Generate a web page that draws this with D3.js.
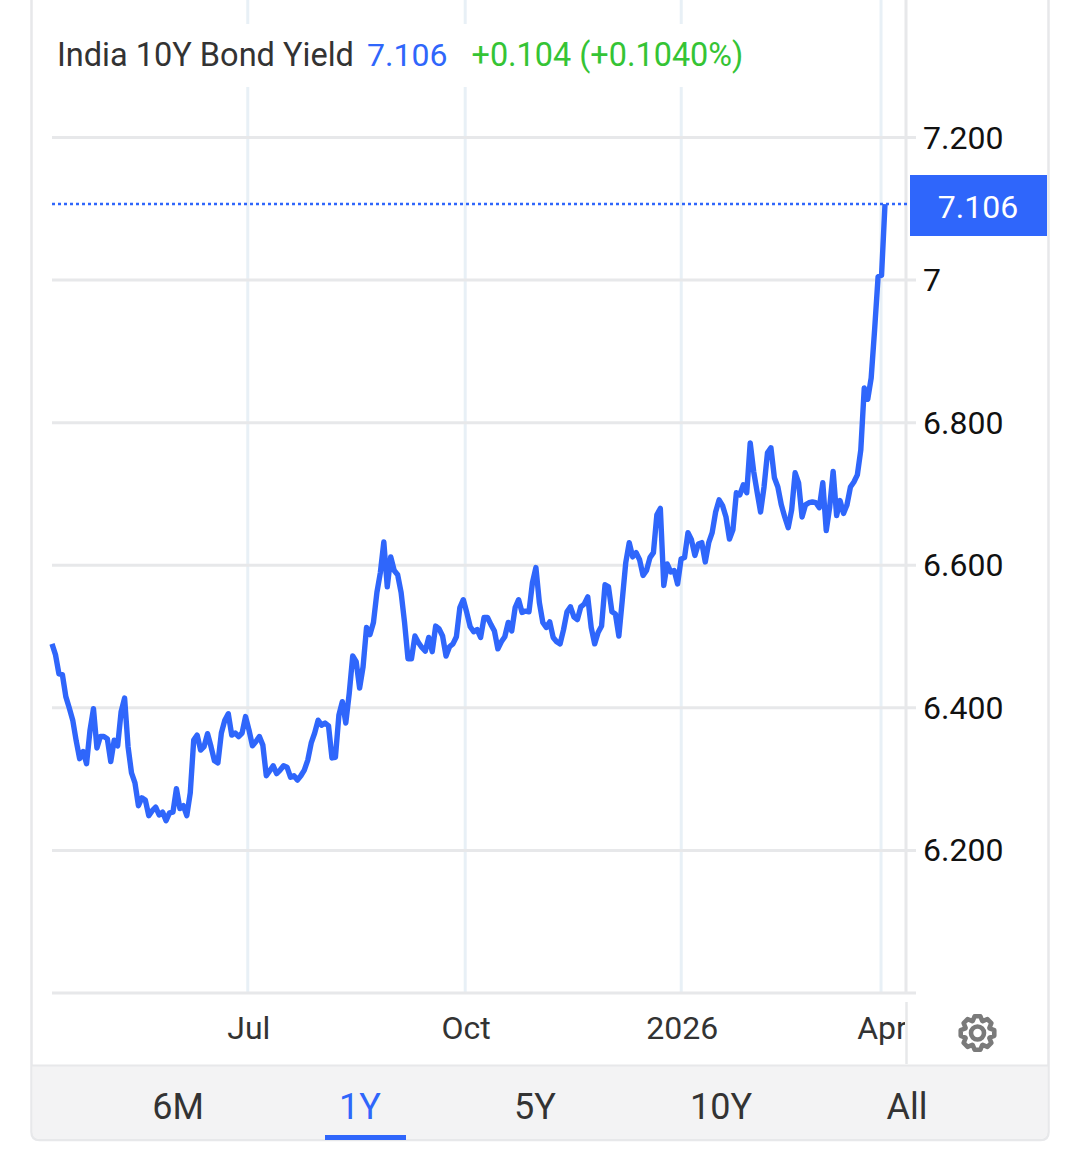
<!DOCTYPE html>
<html>
<head>
<meta charset="utf-8">
<script src="https://cdn.jsdelivr.net/npm/d3@7"></script>
<style>
  html, body { margin: 0; padding: 0; background: #fff; }
  svg { display: block; }
  text { font-family: Roboto, sans-serif; }
</style>
</head>
<body>
<svg id="chart" width="1080" height="1151"></svg>
<script>
// daily closes, one per trading session
const yields = [
  6.489, 6.474, 6.447, 6.446, 6.415, 6.399, 6.382, 6.353, 6.328, 6.338,
  6.321, 6.368, 6.398, 6.343, 6.359, 6.359, 6.356, 6.324, 6.354, 6.346,
  6.394, 6.413, 6.345, 6.308, 6.294, 6.262, 6.273, 6.270, 6.248, 6.255,
  6.260, 6.249, 6.253, 6.241, 6.252, 6.253, 6.286, 6.258, 6.262, 6.248,
  6.280, 6.354, 6.361, 6.340, 6.345, 6.363, 6.345, 6.325, 6.322, 6.364,
  6.382, 6.391, 6.361, 6.364, 6.359, 6.364, 6.387, 6.368, 6.346, 6.352,
  6.359, 6.347, 6.304, 6.311, 6.318, 6.307, 6.312, 6.318, 6.316, 6.302,
  6.304, 6.298, 6.304, 6.312, 6.326, 6.350, 6.364, 6.382, 6.375, 6.378,
  6.374, 6.329, 6.330, 6.389, 6.408, 6.378, 6.420, 6.472, 6.464, 6.427,
  6.457, 6.512, 6.502, 6.519, 6.561, 6.589, 6.632, 6.569, 6.611, 6.592,
  6.586, 6.561, 6.519, 6.468, 6.468, 6.500, 6.491, 6.484, 6.479, 6.498,
  6.478, 6.514, 6.510, 6.500, 6.472, 6.485, 6.489, 6.499, 6.540, 6.551,
  6.533, 6.513, 6.506, 6.509, 6.498, 6.526, 6.526, 6.516, 6.507, 6.482,
  6.492, 6.499, 6.519, 6.507, 6.540, 6.551, 6.533, 6.535, 6.534, 6.575,
  6.596, 6.547, 6.519, 6.512, 6.520, 6.498, 6.492, 6.489, 6.509, 6.534,
  6.541, 6.527, 6.523, 6.541, 6.545, 6.555, 6.512, 6.489, 6.505, 6.514,
  6.572, 6.569, 6.534, 6.531, 6.500, 6.551, 6.603, 6.631, 6.611, 6.617,
  6.607, 6.585, 6.592, 6.610, 6.617, 6.670, 6.679, 6.571, 6.601, 6.590,
  6.592, 6.573, 6.608, 6.610, 6.645, 6.635, 6.613, 6.629, 6.631, 6.604,
  6.631, 6.645, 6.674, 6.691, 6.683, 6.667, 6.636, 6.649, 6.701, 6.698,
  6.712, 6.701, 6.771, 6.731, 6.702, 6.674, 6.709, 6.757, 6.764, 6.722,
  6.709, 6.684, 6.667, 6.652, 6.677, 6.729, 6.715, 6.667, 6.684, 6.687,
  6.688, 6.687, 6.680, 6.715, 6.648, 6.681, 6.731, 6.669, 6.690, 6.672,
  6.684, 6.709, 6.716, 6.726, 6.761, 6.848, 6.832, 6.862, 6.930, 7.004,
  7.006, 7.106
];
const yTicks = [6, 6.2, 6.4, 6.6, 6.8, 7, 7.2];
const yLabels = ["", "6.200", "6.400", "6.600", "6.800", "7", "7.200"];
const monthSessions = [56.5, 119.4, 181.9, 239.7];
const monthLabels = ["Jul", "Oct", "2026", "Apr"];
const rangeLabels = ["6M", "1Y", "5Y", "10Y", "All"];
const rangeCenters = [178, 360, 535, 721, 907];
const lastValue = 7.106;

const BLUE = "#2f66fb";
const GRID = "#e7e8ea";
const VGRID = "#e8f0f6";

const svg = d3.select("#chart");

// card + toolbar
svg.append("path")
  .attr("d", "M31.5,0 V1132 Q31.5,1140 39.5,1140 H1040.5 Q1048.5,1140 1048.5,1132 V0")
  .attr("fill", "#fff").attr("stroke", GRID).attr("stroke-width", 2.5);
svg.append("path")
  .attr("d", "M32.5,1066 H1047.5 V1132 Q1047.5,1139 1040.5,1139 H39.5 Q32.5,1139 32.5,1132 Z")
  .attr("fill", "#f3f3f4");
svg.append("line").attr("x1", 32).attr("x2", 1048).attr("y1", 1065.5).attr("y2", 1065.5)
  .attr("stroke", GRID).attr("stroke-width", 2);

const x = d3.scaleLinear().domain([0, yields.length - 1]).range([52, 885]);
const y = d3.scaleLinear().domain([6, 7.2]).range([992.5, 137]);

// vertical grid, drawn by the bottom axis
const xGrid = svg.append("g").attr("transform", "translate(0,992)")
  .call(d3.axisBottom(x).tickValues(monthSessions).tickSize(-992).tickFormat(""));
xGrid.select(".domain").remove();
xGrid.selectAll("line").attr("stroke", VGRID).attr("stroke-width", 3);

// header sits on white and cuts the grid
svg.append("rect").attr("x", 40).attr("y", 24).attr("width", 720).attr("height", 63).attr("fill", "#fff");

// horizontal grid + labels
const yAxis = svg.append("g").attr("transform", "translate(916,0)")
  .call(d3.axisLeft(y).tickValues(yTicks).tickSize(864).tickFormat(""));
yAxis.select(".domain").remove();
yAxis.selectAll("line").attr("stroke", GRID).attr("stroke-width", 3);

svg.append("line").attr("x1", 906).attr("x2", 906).attr("y1", 0).attr("y2", 992)
  .attr("stroke", GRID).attr("stroke-width", 3);

svg.append("g").selectAll("text").data(yTicks).join("text")
  .attr("x", 923).attr("y", d => y(d) + 11.5)
  .attr("font-size", 32).attr("fill", "#111")
  .text((d, i) => yLabels[i]);

// x labels, clipped at the axis line like the original
svg.append("clipPath").attr("id", "xclip").append("rect")
  .attr("x", 0).attr("y", 1000).attr("width", 905).attr("height", 65);
svg.append("g").attr("clip-path", "url(#xclip)")
  .selectAll("text").data(monthSessions).join("text")
  .attr("x", d => x(d) + 1.5).attr("y", 1039)
  .attr("text-anchor", "middle").attr("font-size", 32).attr("fill", "#333")
  .text((d, i) => monthLabels[i]);
svg.append("line").attr("x1", 906.5).attr("x2", 906.5).attr("y1", 1002).attr("y2", 1064)
  .attr("stroke", GRID).attr("stroke-width", 2.5);

// last value guide
svg.append("line")
  .attr("x1", 52).attr("x2", 910).attr("y1", y(lastValue)).attr("y2", y(lastValue))
  .attr("stroke", BLUE).attr("stroke-width", 2.5).attr("stroke-dasharray", "3 3");

// series
const line = d3.line().x((d, i) => x(i)).y(d => y(d));
svg.append("path").datum(yields)
  .attr("d", line)
  .attr("fill", "none").attr("stroke", BLUE).attr("stroke-width", 5.4)
  .attr("stroke-linejoin", "round");

// badge
svg.append("rect").attr("x", 910).attr("y", 175).attr("width", 137).attr("height", 61).attr("fill", BLUE);
svg.append("text").attr("x", 978).attr("y", 217.5)
  .attr("text-anchor", "middle").attr("font-size", 32).attr("fill", "#fff")
  .text(lastValue.toFixed(3));

// header
const headerY = 66;
svg.append("text").attr("x", 57).attr("y", headerY).attr("font-size", 32.5).attr("fill", "#333")
  .text("India 10Y Bond Yield");
svg.append("text").attr("x", 367).attr("y", headerY).attr("font-size", 32).attr("fill", BLUE)
  .text(lastValue.toFixed(3));
svg.append("text").attr("x", 471.5).attr("y", headerY).attr("font-size", 32.4).attr("fill", "#35c435")
  .text("+0.104 (+0.1040%)");

// range buttons
svg.append("g").selectAll("text").data(rangeLabels).join("text")
  .attr("x", (d, i) => rangeCenters[i]).attr("y", 1119)
  .attr("text-anchor", "middle").attr("font-size", 36)
  .attr("fill", d => d === "1Y" ? BLUE : "#333")
  .text(d => d);
svg.append("rect").attr("x", 325).attr("y", 1135).attr("width", 81).attr("height", 5).attr("fill", BLUE);

// settings gear
const teeth = 8;
const gearPts = d3.range(teeth).flatMap(k => {
  const a = k * 2 * Math.PI / teeth;
  const w = Math.PI / teeth;
  return [[a - w * 0.95, 13], [a - w * 0.42, 17], [a + w * 0.42, 17], [a + w * 0.95, 13]];
});
const gear = svg.append("g").attr("transform", "translate(977.5,1033)")
  .attr("fill", "none").attr("stroke", "#7a7a7a").attr("stroke-width", 4.6).attr("stroke-linejoin", "round");
gear.append("path").attr("d", d3.lineRadial().curve(d3.curveLinearClosed)(gearPts));
gear.append("circle").attr("r", 6.5);
</script>
</body>
</html>
